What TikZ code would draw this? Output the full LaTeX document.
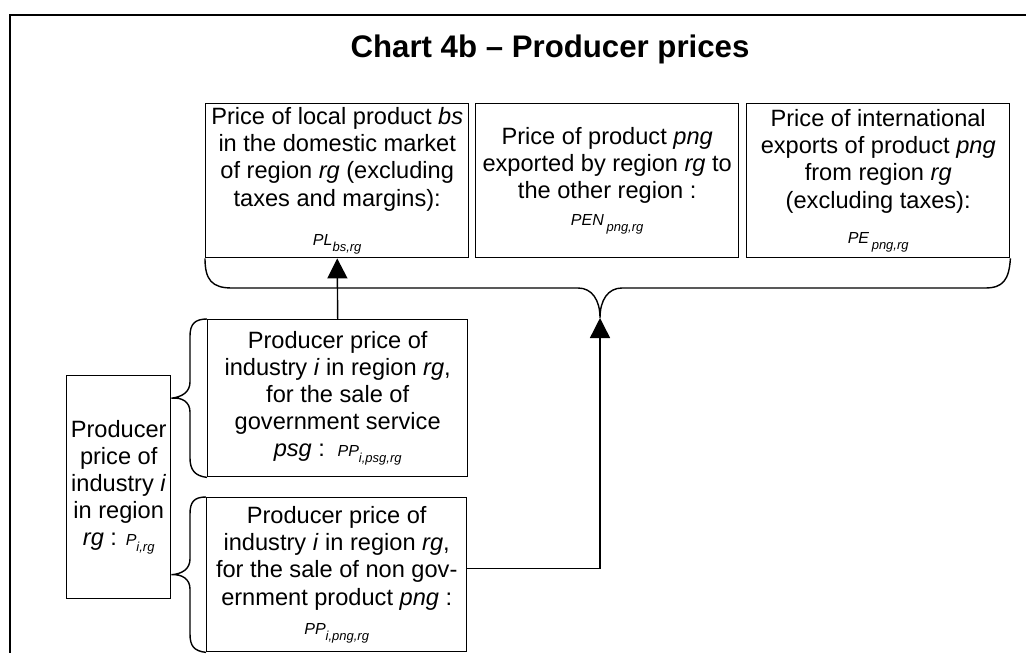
\documentclass[tikz,border=0pt]{standalone}
\usepackage{fontspec}
\setmainfont{Liberation Sans}
\usetikzlibrary{arrows.meta}

\newcommand{\boxfont}{\fontsize{11.8}{13.6}\selectfont}
\newcommand{\pvar}[2]{{\fontsize{8}{9}\selectfont\itshape #1\raisebox{-3pt}{\fontsize{6.5}{7}\selectfont #2}}}

\begin{document}
\begin{tikzpicture}[x=0.5pt, y=-0.5pt,
    box/.style={draw, line width=0.7pt, align=center, inner sep=1pt, font=\boxfont, anchor=north west},
    link/.style={line width=0.7pt, -{Triangle[length=10pt,width=10pt]}},
    brace/.style={line width=0.7pt}]
    \useasboundingbox (0,0) rectangle (1026,653);

    % frame and title
    \draw [line width=1.1pt] (1026,15) -- (10,15) -- (10,653);
    \node [font=\fontsize{15.6}{18}\selectfont\bfseries, anchor=base] (title) at (550,57) {Chart 4b – Producer prices};

    % prices of the products
    \node [box, minimum width=131.5pt, minimum height=77pt] (pl) at (205,103) {Price of local product \textit{bs}\\ in the domestic market\\ of region \textit{rg} (excluding\\ taxes and margins):\\[6pt] \pvar{PL}{bs,rg}};
    \node [box, minimum width=131.5pt, minimum height=77pt] (pen) at (475,103) {Price of product \textit{png}\\ exported by region \textit{rg} to\\ the other region :\\[0pt] \pvar{PEN\,}{png,rg}};
    \node [box, minimum width=131.5pt, minimum height=77pt] (pe) at (746,103) {Price of international\\ exports of product \textit{png}\\ from region \textit{rg}\\ (excluding taxes):\\[4pt] \pvar{PE\,}{png,rg}};

    % producer prices
    \node [box, minimum width=130pt, minimum height=78.5pt] (psg) at (207,319) {Producer price of\\ industry \textit{i} in region \textit{rg},\\ for the sale of\\ government service\\ \textit{psg} : \,\pvar{PP}{i,psg,rg}};
    \node [box, minimum width=130pt, minimum height=77pt] (png) at (206,497) {Producer price of\\ industry \textit{i} in region \textit{rg},\\ for the sale of non gov-\\ ernment product \textit{png} :\\[1pt] \pvar{PP}{i,png,rg}};
    \node [box, minimum width=52pt, minimum height=111.5pt] (p) at (66,375) {Producer\\ price of\\ industry \textit{i}\\ in region\\ \textit{rg} : \pvar{P}{i,rg}};

    \coordinate (tip) at (600,318);

    % braces
    \draw [brace] (pl.south west) .. controls (205,280) and (212,288) .. (232,288) -- (578,288) .. controls (592,288) and (600,300) .. (tip) .. controls (600,300) and (608,288) .. (622,288) -- (985,288) .. controls (1003,288) and (1009,280) .. (pe.south east);
    \draw [brace] (psg.north west) .. controls (195,319) and (190,324) .. (190,336) -- (190,382) .. controls (190,392) and (182,397) .. (p.east |- psg.west) .. controls (182,397) and (190,402) .. (190,412) -- (190,458) .. controls (190,470) and (195,476) .. (psg.south west);
    \draw [brace] (png.north west) .. controls (194,497) and (190,502) .. (190,514) -- (190,559) .. controls (190,569) and (182,574) .. (p.east |- png.west) .. controls (182,574) and (190,579) .. (190,589) -- (190,634) .. controls (190,646) and (194,651) .. (png.south west);

    % arrows
    \draw [link] (psg.north) -- (pl.south);
    \draw [link] ([yshift=3pt]png.east) -| (tip);
\end{tikzpicture}
\end{document}
